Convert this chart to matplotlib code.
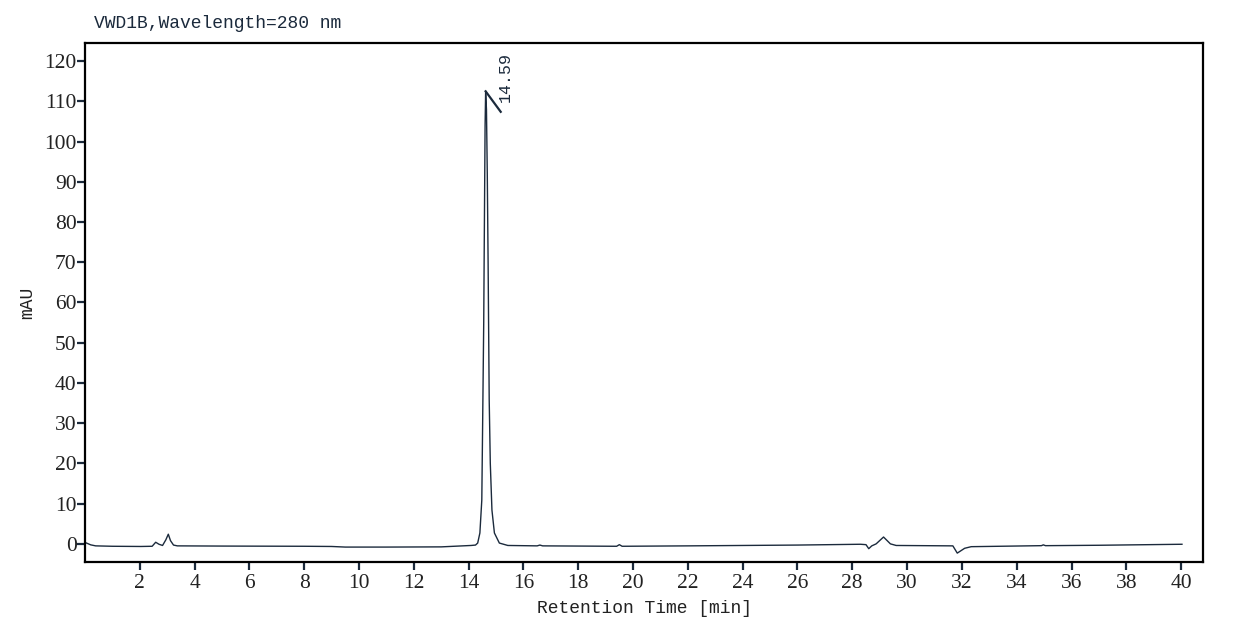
import numpy as np
import matplotlib
matplotlib.use("Agg")
import matplotlib.pyplot as plt

# chromatogram trace: retention time [min], signal [mAU]
time_min = [
    0.00, 0.02, 0.21, 0.39, 1.00, 2.04, 2.45, 2.58, 2.70, 2.83, 2.95, 3.04,
    3.12, 3.23, 3.37, 5.00, 8.00, 9.00, 9.50, 11.00, 13.00, 14.09, 14.25,
    14.33, 14.41, 14.48, 14.52, 14.55, 14.57, 14.60, 14.62, 14.65, 14.68,
    14.71, 14.75, 14.79, 14.85, 14.94, 15.12, 15.43, 16.50, 16.60, 16.70,
    19.40, 19.50, 19.60, 22.00, 26.00, 28.30, 28.50, 28.60, 28.71, 28.87,
    29.14, 29.39, 29.60, 31.67, 31.83, 32.10, 32.34, 34.90, 34.97, 35.05,
    37.00, 40.03,
]
signal_mau = [
    0.3, 0.3, -0.25, -0.5, -0.6, -0.65, -0.6, 0.4, -0.1, -0.4, 1.0, 2.4,
    0.8, -0.3, -0.5, -0.55, -0.6, -0.65, -0.8, -0.8, -0.75, -0.4, -0.3,
    0.2, 2.7, 10.9, 35.8, 55.0, 75.0, 104.0, 112.5, 108.0, 92.0,
    70.0, 35.8, 20.0, 8.4, 2.7, 0.2, -0.4, -0.5, -0.3, -0.5,
    -0.6, -0.2, -0.6, -0.5, -0.3, -0.1, -0.2, -1.2, -0.5, 0.0,
    1.7, 0.0, -0.4, -0.5, -2.3, -1.1, -0.7, -0.45, -0.25, -0.45,
    -0.35, -0.1,
]

peak_time = 14.62
peak_height = 112.5
peak_label = "14.59"

x_ticks = list(range(2, 41, 2))
y_ticks = list(range(0, 121, 10))

navy = "#1b2a3c"
mono = "Liberation Mono"
serif = "Liberation Serif"

fig = plt.figure(figsize=(12.39, 6.30), dpi=100)
ax = fig.add_axes([0.0686, 0.108, 0.9024, 0.8237])

ax.plot(time_min, signal_mau, color=navy, lw=1.0)

# peak marker line and retention time label
ax.plot([peak_time, 15.17], [peak_height, 107.4], color=navy, lw=1.6)
ax.text(15.05, 109.8, peak_label, rotation=90, ha="left", va="bottom",
        family=mono, fontsize=12, color=navy)

ax.set_xlim(0, 40.8)
ax.set_ylim(-4.5, 124.5)
ax.set_xticks(x_ticks)
ax.set_yticks(y_ticks)

for s in ax.spines.values():
    s.set_linewidth(1.6)
    s.set_color("black")

ax.tick_params(direction="out", length=5.5, width=1.6, color=navy,
               labelsize=15.5, labelcolor="#222222")
ax.tick_params(axis="x", pad=3)
ax.tick_params(axis="y", pad=0.5)
for lab in ax.get_xticklabels() + ax.get_yticklabels():
    lab.set_family(serif)

ax.set_xlabel("Retention Time [min]", family=mono, fontsize=13,
              color="#222222", labelpad=5)
ax.set_ylabel("mAU", family=mono, fontsize=13, color="#222222", labelpad=6)

fig.text(94 / 1239, 1 - 24 / 630, "VWD1B,Wavelength=280 nm", family=mono,
         fontsize=13, color=navy, ha="left", va="center")

fig.savefig("out.png", dpi=100)
